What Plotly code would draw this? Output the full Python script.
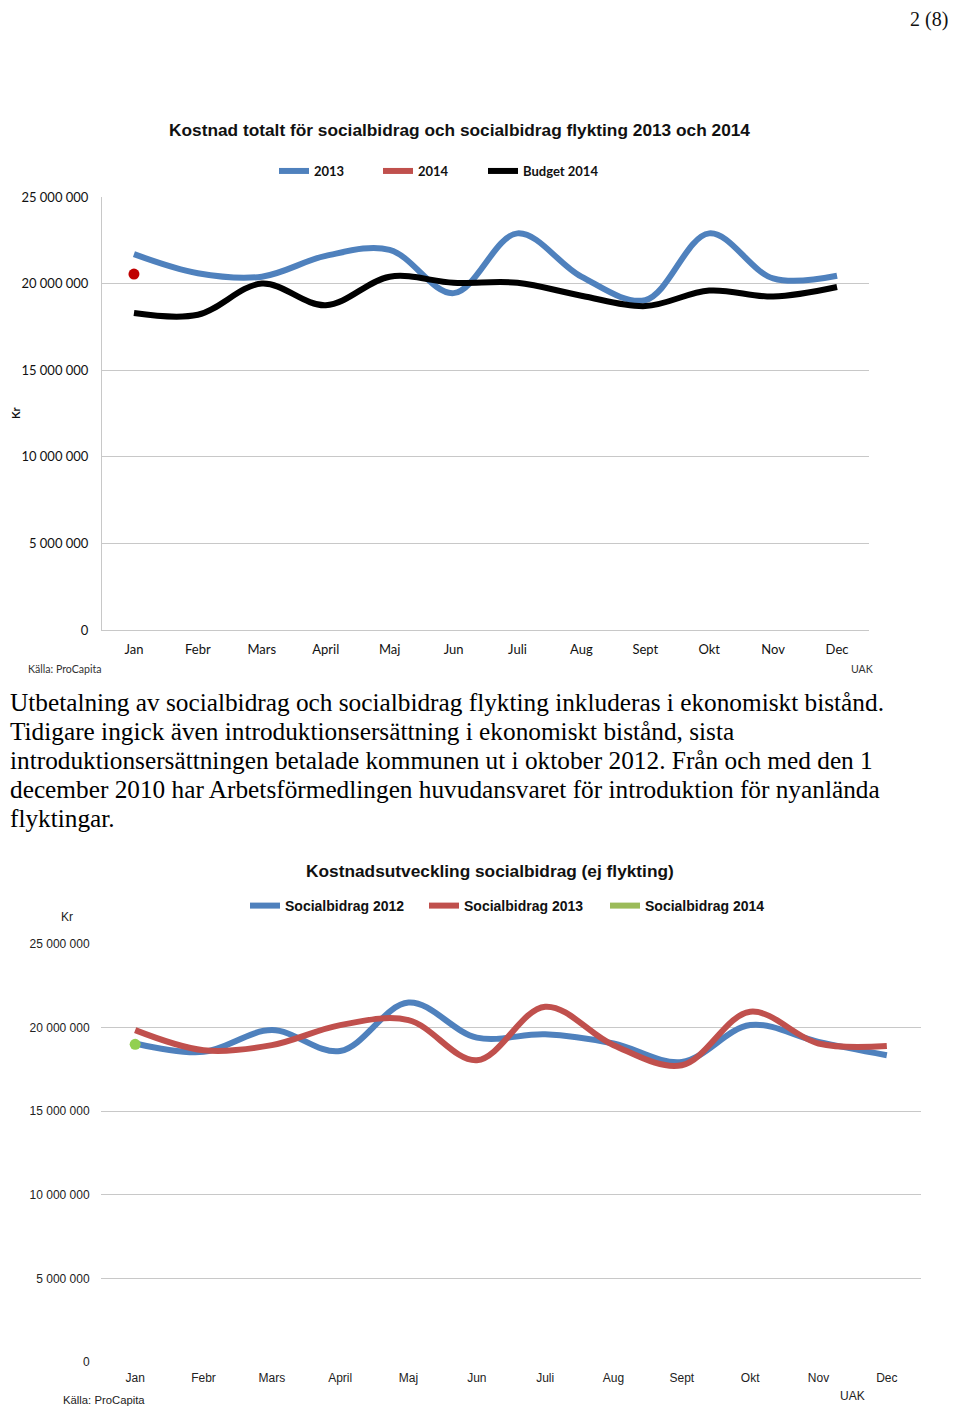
import plotly.graph_objects as go

# ---------------- data ----------------
months = ["Jan", "Febr", "Mars", "April", "Maj", "Jun", "Juli", "Aug", "Sept", "Okt", "Nov", "Dec"]

# Chart 1: Kostnad totalt (kr)
tot_2013 = [21.7e6, 20.6e6, 20.4e6, 21.6e6, 21.95e6, 19.45e6, 22.9e6, 20.4e6, 19.05e6, 22.9e6, 20.3e6, 20.45e6]
tot_2014 = [20.55e6, None, None, None, None, None, None, None, None, None, None, None]
budget_2014 = [18.3e6, 18.2e6, 20.0e6, 18.75e6, 20.4e6, 20.05e6, 20.05e6, 19.3e6, 18.7e6, 19.6e6, 19.25e6, 19.8e6]

# Chart 2: Kostnadsutveckling socialbidrag (ej flykting)
sb_2012 = [19.05e6, 18.55e6, 19.85e6, 18.6e6, 21.5e6, 19.4e6, 19.6e6, 19.05e6, 17.95e6, 20.15e6, 19.15e6, 18.35e6]
sb_2013 = [19.85e6, 18.65e6, 18.95e6, 20.15e6, 20.45e6, 18.05e6, 21.25e6, 18.95e6, 17.75e6, 20.95e6, 19.05e6, 18.9e6]
sb_2014 = [19.0e6, None, None, None, None, None, None, None, None, None, None, None]

y_tickvals = [0, 5e6, 10e6, 15e6, 20e6, 25e6]
y_ticktext = ["0", "5 000 000", "10 000 000", "15 000 000", "20 000 000", "25 000 000"]

paragraph = [
    "Utbetalning av socialbidrag och socialbidrag flykting inkluderas i ekonomiskt bistånd.",
    "Tidigare ingick även introduktionsersättning i ekonomiskt bistånd, sista",
    "introduktionsersättningen betalade kommunen ut i oktober 2012. Från och med den 1",
    "december 2010 har Arbetsförmedlingen huvudansvaret för introduktion för nyanlända",
    "flyktingar.",
]

# ---------------- layout helpers ----------------
OFF = 8  # page body offset
W, H = 960 - OFF, 1407 - OFF
def py(p):
    return 1 - (p - OFF) / H
def px(p):
    return max(p - OFF, 0) / W

BLUE = "#4F81BD"
RED = "#C0504D"
GREEN = "#9BBB59"
GRID = "#C8C8C8"

fig = go.Figure()

# Chart 1 traces
fig.add_trace(go.Scatter(x=months, y=tot_2013, mode="lines", name="2013",
                         line=dict(color=BLUE, width=6, shape="spline", smoothing=1),
                         xaxis="x", yaxis="y", legend="legend"))
fig.add_trace(go.Scatter(x=months, y=tot_2014, mode="lines", name="2014",
                         line=dict(color=RED, width=6),
                         xaxis="x", yaxis="y", legend="legend2"))
fig.add_trace(go.Scatter(x=months, y=tot_2014, mode="markers", showlegend=False,
                         marker=dict(color="#C00000", size=11, symbol="circle"),
                         xaxis="x", yaxis="y"))
fig.add_trace(go.Scatter(x=months, y=budget_2014, mode="lines", name="Budget 2014",
                         line=dict(color="#000000", width=6, shape="spline", smoothing=1),
                         xaxis="x", yaxis="y", legend="legend3"))

# Chart 2 traces
fig.add_trace(go.Scatter(x=months, y=sb_2012, mode="lines", name="Socialbidrag 2012",
                         line=dict(color=BLUE, width=6, shape="spline", smoothing=1),
                         xaxis="x2", yaxis="y2", legend="legend4"))
fig.add_trace(go.Scatter(x=months, y=sb_2013, mode="lines", name="Socialbidrag 2013",
                         line=dict(color=RED, width=6, shape="spline", smoothing=1),
                         xaxis="x2", yaxis="y2", legend="legend5"))
fig.add_trace(go.Scatter(x=months, y=sb_2014, mode="lines", name="Socialbidrag 2014",
                         line=dict(color=GREEN, width=6),
                         xaxis="x2", yaxis="y2", legend="legend6"))
fig.add_trace(go.Scatter(x=months, y=sb_2014, mode="markers", showlegend=False,
                         marker=dict(color="#92D050", size=11, symbol="circle"),
                         xaxis="x2", yaxis="y2"))

f1 = dict(family="Lato, Open Sans, sans-serif", size=13, color="#111111")
f2 = dict(family="Liberation Sans, Arial, sans-serif", size=12, color="#222222")

lf1 = dict(family="Lato, sans-serif", size=13, color="#111111", weight="bold")
lf2 = dict(family="Liberation Sans, Arial, sans-serif", size=14, color="#111111", weight="bold")

def leg(line_end, ycen, font):
    return dict(orientation="h", x=px(line_end - 35), y=py(ycen), xanchor="left", yanchor="middle",
                font=font, bgcolor="rgba(0,0,0,0)", itemwidth=30, tracegroupgap=0)

fig.update_layout(
    width=W, height=H,
    margin=dict(l=0, r=0, t=0, b=0, autoexpand=False),
    paper_bgcolor="white", plot_bgcolor="white",
    xaxis=dict(domain=[px(102), px(869)], anchor="y", type="category", range=[-0.5, 11.5],
               showgrid=False, showline=True, linecolor=GRID, linewidth=1, automargin=False,
               ticks="outside", ticklen=7, tickcolor="rgba(0,0,0,0)", tickfont=f1,
               fixedrange=True),
    yaxis=dict(domain=[py(630), py(197)], anchor="x", range=[0, 25e6], automargin=False,
               tickvals=y_tickvals, ticktext=y_ticktext, showgrid=True, gridcolor=GRID,
               gridwidth=1, zeroline=False, showline=True, linecolor=GRID, linewidth=1,
               ticks="outside", ticklen=10, tickcolor="rgba(0,0,0,0)", tickfont=f1),
    xaxis2=dict(domain=[px(101), px(921)], anchor="y2", type="category", range=[-0.5, 11.5],
                showgrid=False, showline=False, automargin=False,
                ticks="outside", ticklen=5, tickcolor="rgba(0,0,0,0)", tickfont=f2),
    yaxis2=dict(domain=[py(1362), py(944)], anchor="x2", range=[0, 25e6], automargin=False,
                tickvals=y_tickvals, ticktext=y_ticktext, showgrid=True, gridcolor=GRID,
                gridwidth=1, zeroline=False, showline=False,
                ticks="outside", ticklen=8, tickcolor="rgba(0,0,0,0)", tickfont=f2),
    legend=leg(309, 171, lf1),
    legend2=leg(413, 171, lf1),
    legend3=leg(518, 171, lf1),
    legend4=leg(280, 906, lf2),
    legend5=leg(459, 906, lf2),
    legend6=leg(640, 906, lf2),
    showlegend=True,
)

ann = []
def add(text, x, y, font, xanchor="center", **kw):
    ann.append(dict(text=text, x=px(x), y=py(y), xref="paper", yref="paper", showarrow=False,
                    xanchor=xanchor, yanchor="middle", font=font, **kw))

# titles
add("Kostnad totalt för socialbidrag och socialbidrag flykting 2013 och 2014", 459, 130,
    dict(family="Liberation Sans, Arial", size=17.3, color="#111111", weight="bold"))
add("Kostnadsutveckling socialbidrag (ej flykting)", 490, 871,
    dict(family="Liberation Sans, Arial", size=17.3, color="#111111", weight="bold"))
# axis titles
add("Kr", 16, 413, dict(family="Lato, sans-serif", size=11, color="#111111", weight="bold"), textangle=-90)
add("Kr", 67, 917, dict(family="Liberation Sans, Arial", size=12, color="#222222"))
# sources
add("Källa: ProCapita", 26, 669, dict(family="Lato, sans-serif", size=10.6, color="#333333"), xanchor="left")
add("UAK", 862, 669, dict(family="Lato, sans-serif", size=10.6, color="#333333"))
add("Källa: ProCapita", 61, 1400, dict(family="Liberation Sans, Arial", size=11.3, color="#222222"), xanchor="left")
add("UAK", 852, 1396, dict(family="Liberation Sans, Arial", size=12, color="#222222"))
# page number
add("2 (8)", 950, 20, dict(family="Liberation Serif, serif", size=20, color="#111111"), xanchor="right")
# paragraph
for i, line in enumerate(paragraph):
    add(line, 0, 702 + 29 * i, dict(family="Liberation Serif, serif", size=25.3, color="#000000"),
        xanchor="left")

fig.update_layout(annotations=ann)
fig.write_html("out.html")
